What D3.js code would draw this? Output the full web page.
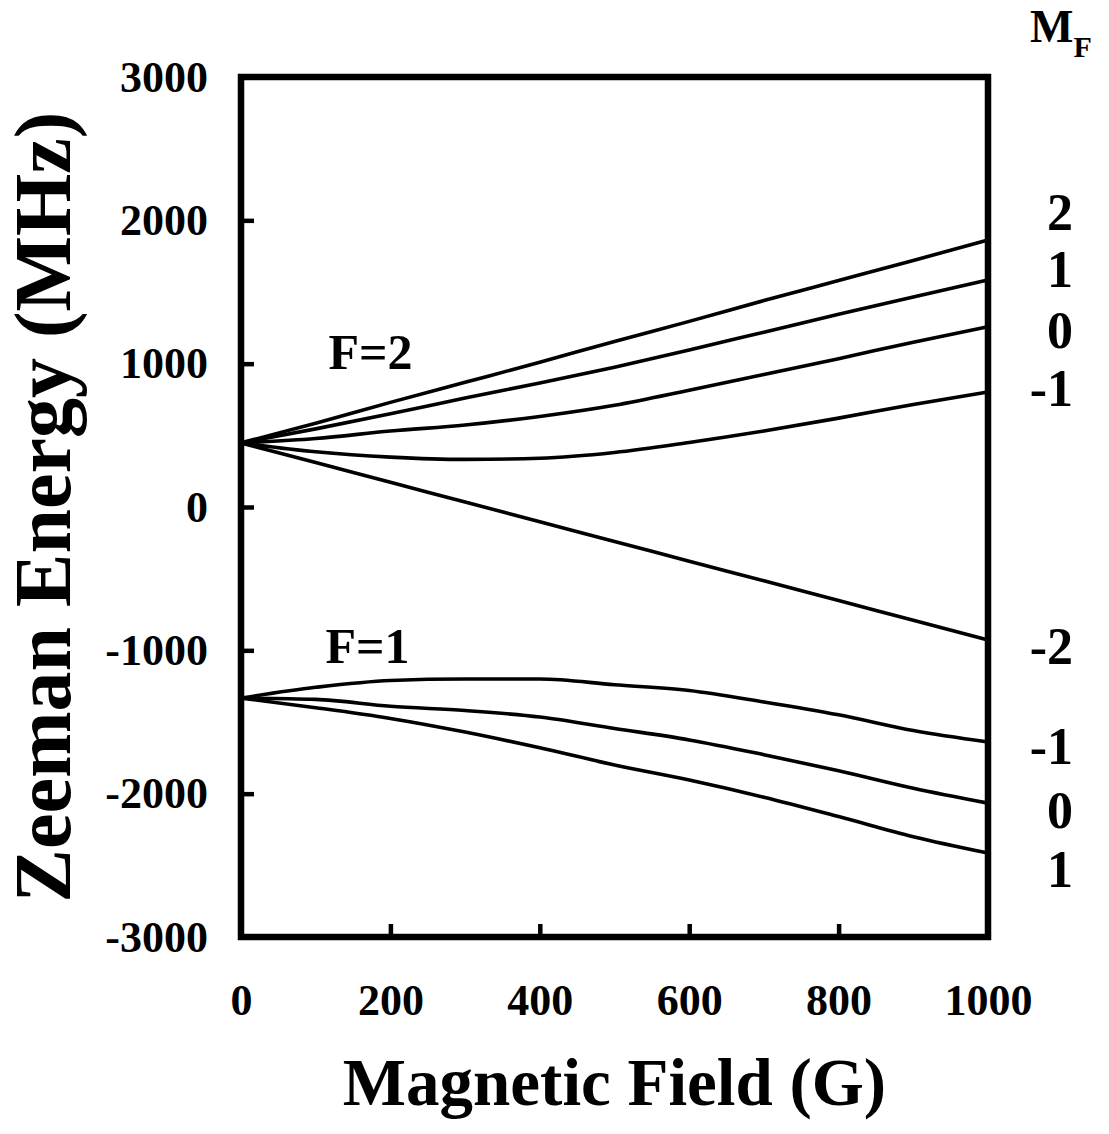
<!DOCTYPE html>
<html>
<head>
<meta charset="utf-8">
<script src="https://cdn.jsdelivr.net/npm/d3@7"></script>
<style>
  html, body { margin: 0; padding: 0; background: #fff; }
  svg text { font-family: "Liberation Serif", "Times New Roman", serif; font-weight: bold; fill: #000; }
</style>
</head>
<body>
<svg id="chart" width="1109" height="1134"></svg>
<script>
// Magnetic field samples (G)
const fieldG = [0, 100, 200, 300, 400, 500, 600, 700, 800, 900, 1000];

// F=2 manifold, Zeeman energy (MHz) for M_F = 2, 1, 0, -1, -2
const f2_mp2 = [447, 585, 730, 870, 1010, 1155, 1295, 1440, 1580, 1720, 1863];
const f2_mp1 = [447, 545, 650, 760, 865, 975, 1095, 1220, 1345, 1465, 1584];
const f2_m0  = [447, 478, 530, 572, 632, 710, 815, 925, 1035, 1150, 1258];
const f2_mm1 = [447, 385, 348, 332, 340, 380, 450, 530, 620, 715, 802];
const f2_mm2 = [447, 310, 172, 35, -103, -240, -378, -515, -653, -790, -928];

// F=1 manifold, Zeeman energy (MHz) for M_F = -1, 0, 1
const f1_mm1 = [-1333, -1258, -1210, -1200, -1200, -1240, -1280, -1360, -1450, -1560, -1640];
const f1_m0  = [-1333, -1342, -1390, -1420, -1465, -1545, -1625, -1728, -1840, -1962, -2066];
const f1_mp1 = [-1333, -1400, -1475, -1570, -1680, -1800, -1905, -2025, -2160, -2300, -2414];

// Axis ticks
const xTicks = [0, 200, 400, 600, 800, 1000];
const yTicks = [3000, 2000, 1000, 0, -1000, -2000, -3000];

// M_F labels on the right side and their heights (MHz)
const mfLabels = ["2", "1", "0", "-1", "-2", "-1", "0", "1"];
const mfLabelE = [2059, 1661, 1235, 830, -970, -1668, -2115, -2527];

// Manifold labels
const manifoldLabels = ["F=2", "F=1"];
const manifoldLabelE = [960, -1090];
const manifoldLabelG = [117, 113];

const levels = [f2_mp2, f2_mp1, f2_m0, f2_mm1, f2_mm2, f1_mm1, f1_m0, f1_mp1];

const svg = d3.select("#chart");
svg.append("rect").attr("width", 1109).attr("height", 1134).attr("fill", "#fff");

const x = d3.scaleLinear().domain([0, 1000]).range([241, 988]);
const y = d3.scaleLinear().domain([-3000, 3000]).range([937, 77]);

// Energy level curves
const line = d3.line()
  .x((d, i) => x(fieldG[i]))
  .y(d => y(d))
  .curve(d3.curveMonotoneX);

svg.append("g")
  .selectAll("path")
  .data(levels)
  .join("path")
  .attr("d", d => line(d))
  .attr("fill", "none")
  .attr("stroke", "#000")
  .attr("stroke-width", 3.6)
  .attr("stroke-linejoin", "round");

// Axes with inward ticks; plain hyphen for negative numbers
const plain = d => String(d);
const yAxis = d3.axisLeft(y).tickValues(yTicks).tickSize(-13).tickPadding(33).tickFormat(plain);
const gy = svg.append("g").attr("transform", `translate(${x(0)},0)`).call(yAxis);

const xAxis = d3.axisBottom(x).tickValues(xTicks).tickSize(-13).tickPadding(47).tickFormat(plain);
const gx = svg.append("g").attr("transform", `translate(0,${y(-3000)})`).call(xAxis);

[gx, gy].forEach(g => {
  g.attr("font-family", null).attr("font-size", null);
  g.select(".domain").remove();
  g.selectAll(".tick line").attr("stroke", "#000").attr("stroke-width", 4.5);
  g.selectAll(".tick text").style("font-size", "44px");
});

// Plot frame
svg.append("rect")
  .attr("x", x(0)).attr("y", y(3000))
  .attr("width", x(1000) - x(0)).attr("height", y(-3000) - y(3000))
  .attr("fill", "none").attr("stroke", "#000").attr("stroke-width", 6.5);

// Axis titles
svg.append("text")
  .attr("x", (x(0) + x(1000)) / 2).attr("y", 1105)
  .attr("text-anchor", "middle")
  .style("font-size", "67px")
  .text("Magnetic Field (G)");

svg.append("text")
  .attr("transform", `translate(70,${(y(3000) + y(-3000)) / 2}) rotate(-90)`)
  .attr("text-anchor", "middle")
  .style("font-size", "80px")
  .text("Zeeman Energy (MHz)");

// M_F header
const mf = svg.append("text").attr("x", 1030).attr("y", 42).style("font-size", "46px");
mf.append("tspan").text("M");
mf.append("tspan").attr("dy", 15).style("font-size", "30px").text("F");

// M_F labels per level
svg.append("g")
  .selectAll("text")
  .data(mfLabels)
  .join("text")
  .attr("x", 1073)
  .attr("y", (d, i) => y(mfLabelE[i]))
  .attr("dy", "0.34em")
  .attr("text-anchor", "end")
  .style("font-size", "52px")
  .text(d => d);

// Manifold labels
svg.append("g")
  .selectAll("text")
  .data(manifoldLabels)
  .join("text")
  .attr("x", (d, i) => x(manifoldLabelG[i]))
  .attr("y", (d, i) => y(manifoldLabelE[i]))
  .style("font-size", "50px")
  .text(d => d);
</script>
</body>
</html>
